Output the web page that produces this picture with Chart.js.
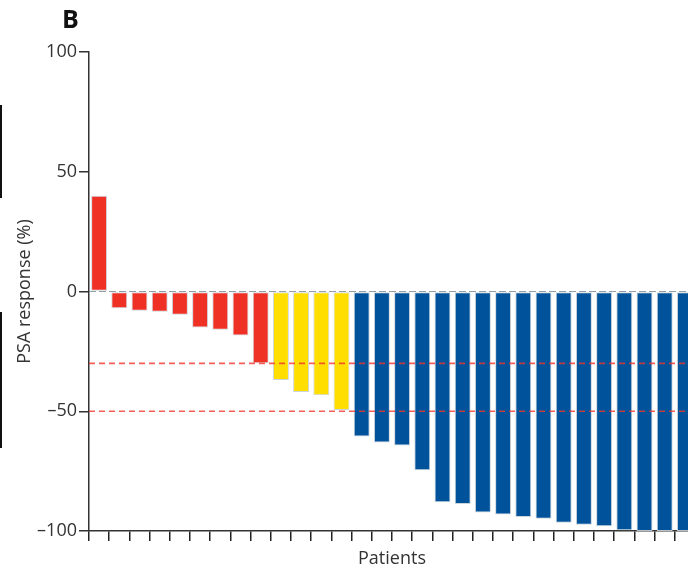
<!DOCTYPE html>
<html>
<head>
<meta charset="utf-8">
<script src="https://cdn.jsdelivr.net/npm/chart.js"></script>
<style>
  html, body { margin: 0; padding: 0; background: #fff; overflow: hidden; }
  #wrap { position: relative; width: 700px; height: 571px; }
</style>
</head>
<body>
<div id="wrap"><canvas id="chart" width="700" height="571"></canvas></div>
<script>
// PSA response per patient, sorted (waterfall)
const patients = Array.from({ length: 30 }, (_, i) => String(i + 1));
const psaResponse = [
  40, -7, -8, -8.5, -9.7, -15, -16, -18.4, -30,
  -37, -42, -43.3, -49.5,
  -60.5, -63, -64.3, -74.6, -88, -88.7, -92.3, -93.1, -94.2, -94.9,
  -96.6, -97.4, -98, -99.7, -100, -100, -100
];
const responseGroup = [
  'red', 'red', 'red', 'red', 'red', 'red', 'red', 'red', 'red',
  'yellow', 'yellow', 'yellow', 'yellow',
  'blue', 'blue', 'blue', 'blue', 'blue', 'blue', 'blue', 'blue', 'blue', 'blue',
  'blue', 'blue', 'blue', 'blue', 'blue', 'blue', 'blue'
];
const yTicks = [-100, -50, 0, 50, 100];
const thresholds = [-30, -50];

const groupColors = { red: '#ee3124', yellow: '#ffde00', blue: '#00539b' };
const FONT = '"Open Sans", "Noto Sans", sans-serif';

// reference lines + panel letter + leftovers of the neighbouring panel
const extras = {
  id: 'extras',
  afterDatasetsDraw(chart) {
    const { ctx, chartArea, scales } = chart;
    ctx.save();
    // grey zero line
    const y0 = scales.y.getPixelForValue(0);
    ctx.strokeStyle = 'rgba(120,135,145,0.8)';
    ctx.lineWidth = 1.2;
    ctx.setLineDash([7, 3]);
    ctx.beginPath();
    ctx.moveTo(chartArea.left, y0);
    ctx.lineTo(chartArea.right, y0);
    ctx.stroke();
    // red dashed thresholds
    ctx.strokeStyle = 'rgba(240,55,45,0.8)';
    ctx.lineWidth = 1.7;
    ctx.setLineDash([6, 4]);
    thresholds.forEach(t => {
      const y = scales.y.getPixelForValue(t);
      ctx.beginPath();
      ctx.moveTo(chartArea.left, y);
      ctx.lineTo(chartArea.right, y);
      ctx.stroke();
    });
    ctx.restore();
  },
  afterDraw(chart) {
    const { ctx } = chart;
    ctx.save();
    ctx.fillStyle = '#111';
    ctx.font = 'bold 25px ' + FONT;
    ctx.textBaseline = 'alphabetic';
    ctx.fillText('B', 62, 28);
    ctx.fillRect(0, 105, 2, 93);
    ctx.fillRect(0, 312, 2, 136);
    ctx.restore();
  }
};

new Chart(document.getElementById('chart'), {
  type: 'bar',
  data: {
    labels: patients,
    datasets: [{
      data: psaResponse,
      backgroundColor: responseGroup.map(g => groupColors[g]),
      borderColor: 'rgba(200,208,215,0.9)',
      borderWidth: 1,
      borderSkipped: false,
      categoryPercentage: 1,
      barPercentage: 0.79
    }]
  },
  options: {
    responsive: false,
    animation: false,
    layout: { padding: { top: 52, right: 5, left: 0, bottom: 0 } },
    plugins: { legend: { display: false }, tooltip: { enabled: false } },
    scales: {
      x: {
        offset: true,
        grid: { offset: true, drawOnChartArea: false, color: '#222', tickLength: 10, lineWidth: 1.5 },
        border: { display: true, color: '#333', width: 1.5 },
        ticks: { display: false },
        title: {
          display: true, text: 'Patients', color: '#333',
          font: { family: FONT, size: 18, lineHeight: 1.2 },
          padding: { top: 1, bottom: 1 }
        },
        afterFit(scale) { scale.height = 40; }
      },
      y: {
        min: -100, max: 100,
        afterBuildTicks(scale) { scale.ticks = yTicks.map(v => ({ value: v })); },
        grid: { drawOnChartArea: false, color: '#333', tickLength: 10, lineWidth: 1.5 },
        border: { display: true, color: '#333', width: 1.5 },
        ticks: {
          color: '#333', padding: 2,
          font: { family: FONT, size: 18 },
          callback: v => String(v).replace('-', '\u2013')
        },
        title: {
          display: true, text: 'PSA response (%)', color: '#333',
          font: { family: FONT, size: 18, lineHeight: 1.2 },
          padding: { top: 14, bottom: 14 }
        },
        afterFit(scale) { scale.width = 89; }
      }
    }
  },
  plugins: [extras]
});
</script>
</body>
</html>
